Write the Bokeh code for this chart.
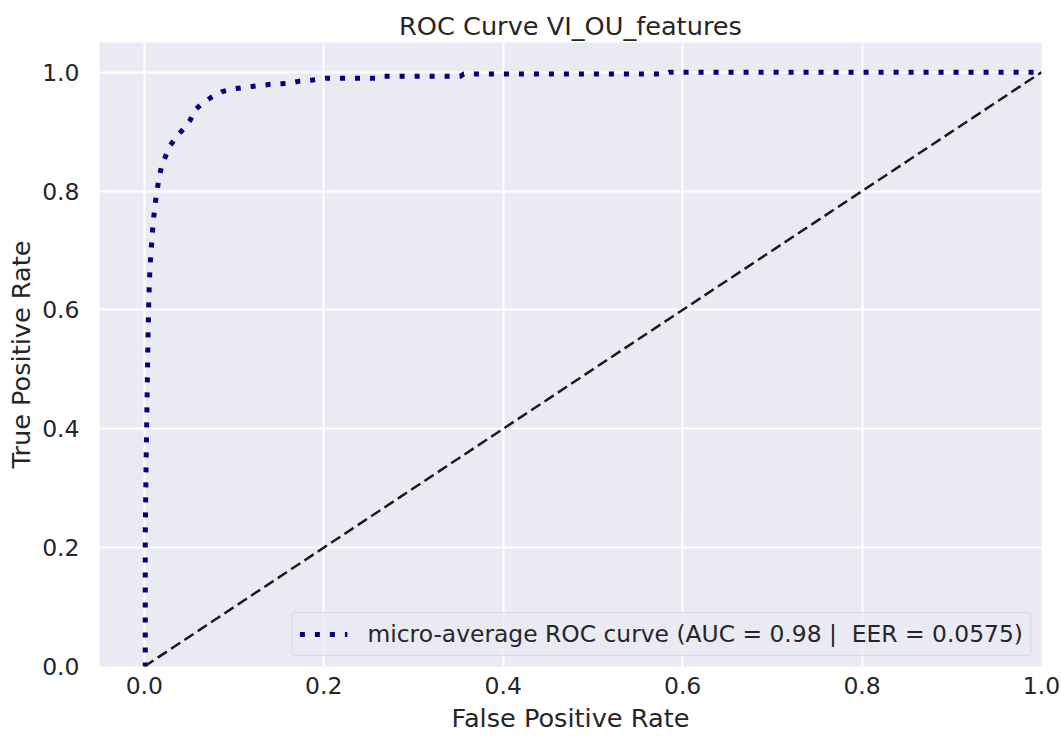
from bokeh.plotting import figure
from bokeh.embed import file_html
from bokeh.resources import INLINE
from bokeh.models import Range1d, FixedTicker, Legend, LegendItem, PrintfTickFormatter

# ROC data
fpr = [0.0, 0.001, 0.001, 0.002, 0.003, 0.004, 0.005, 0.006, 0.007, 0.008, 0.010,
       0.013, 0.016, 0.019, 0.024, 0.029, 0.036, 0.044, 0.051, 0.056, 0.065,
       0.075, 0.086, 0.099, 0.120, 0.143, 0.160, 0.173, 0.188, 0.202, 0.262,
       0.266, 0.352, 0.356, 0.580, 0.585, 1.0]
tpr = [0.0, 0.0, 0.22, 0.35, 0.45, 0.55, 0.62, 0.66, 0.69, 0.71, 0.75,
       0.79, 0.818, 0.841, 0.86, 0.877, 0.892, 0.905, 0.919, 0.936, 0.948,
       0.958, 0.967, 0.972, 0.976, 0.980, 0.981, 0.985, 0.987, 0.990, 0.990,
       0.993, 0.993, 0.997, 0.997, 1.0, 1.0]
chance_x = [0.0, 1.0]
chance_y = [0.0, 1.0]
ticks = [0.0, 0.2, 0.4, 0.6, 0.8, 1.0]
legend_label = "micro-average ROC curve (AUC = 0.98 |  EER = 0.0575)"
title_text = "ROC Curve VI_OU_features"

FONT = "DejaVu Sans"
TXT = "#262626"
BG = "#EAEAF2"

p = figure(width=1061, height=736, output_backend="svg", toolbar_location=None,
           x_range=Range1d(-0.05, 1.0), y_range=Range1d(0.0, 1.05),
           min_border_left=99, min_border_right=20, min_border_top=42,
           min_border_bottom=70, background_fill_color=BG,
           border_fill_color="white", outline_line_color=None)

p.title.text = title_text
p.title.align = "center"
p.title.text_font = FONT
p.title.text_font_size = "25.6px"
p.title.text_font_style = "normal"
p.title.text_color = TXT
p.title.standoff = 4

for ax in (p.xaxis[0], p.yaxis[0]):
    ax.ticker = FixedTicker(ticks=ticks)
    ax.formatter = PrintfTickFormatter(format="%.1f")
    ax.axis_line_color = None
    ax.major_tick_line_color = None
    ax.minor_tick_line_color = None
    ax.major_tick_out = 0
    ax.major_tick_in = 0
    ax.minor_tick_out = 0
    ax.minor_tick_in = 0
    ax.major_label_text_font = FONT
    ax.major_label_text_font_size = "23.5px"
    ax.major_label_text_color = TXT
    ax.axis_label_text_font = FONT
    ax.axis_label_text_font_size = "25.6px"
    ax.axis_label_text_font_style = "normal"
    ax.axis_label_text_color = TXT
p.xaxis.axis_label = "False Positive Rate"
p.yaxis.axis_label = "True Positive Rate"
p.xaxis.major_label_standoff = 10
p.yaxis.major_label_standoff = 20
p.xaxis.axis_label_standoff = 6
p.yaxis.axis_label_standoff = 3

p.grid.grid_line_color = "white"
p.grid.grid_line_width = 2
p.grid.ticker = FixedTicker(ticks=ticks)

r_roc = p.line(fpr, tpr, line_color="#000080", line_width=5, line_dash="5 10",
               line_cap="butt")
p.line(chance_x, chance_y, line_color="#1a1a1a", line_width=2.5, line_dash="11 5")

legend = Legend(items=[LegendItem(label=legend_label, renderers=[r_roc])],
                location="bottom_right", label_text_font=FONT,
                label_text_font_size="23.4px", label_text_color=TXT,
                background_fill_color=BG, background_fill_alpha=0.8,
                border_line_color="#cccccc", border_line_width=1.5,
                glyph_width=48, glyph_height=24, label_height=24,
                padding=7, margin=10, label_standoff=20, spacing=0)
if "border_radius" in Legend.properties():
    legend.border_radius = 4
p.add_layout(legend)

open("out.html", "w").write(file_html(p, INLINE))
